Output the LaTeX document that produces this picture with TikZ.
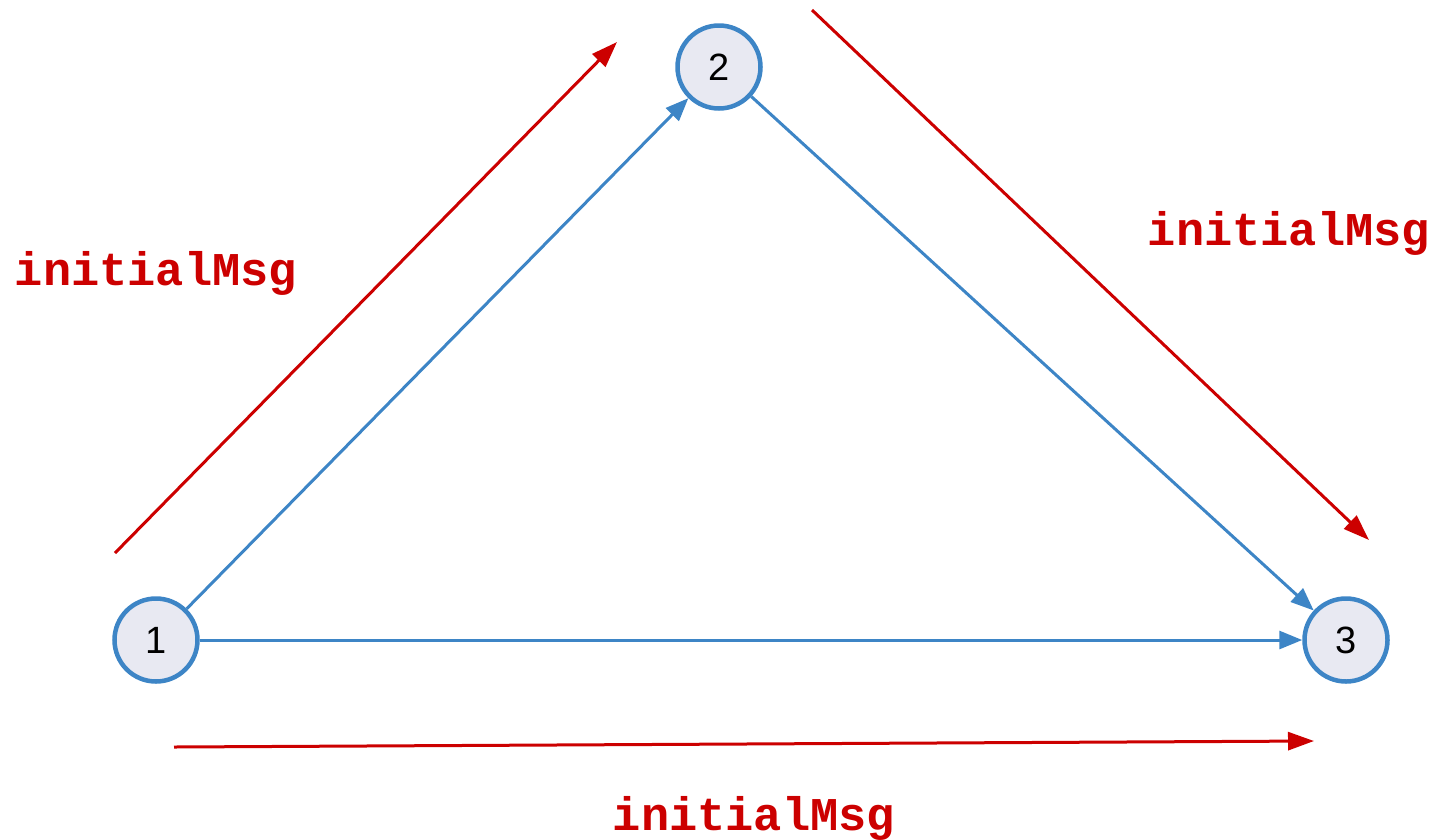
\documentclass[tikz,border=0pt]{standalone}
\usepackage{fontspec}
\setmainfont{Liberation Sans}
\newfontfamily\msgfont{Liberation Mono}
\usetikzlibrary{arrows.meta}
\definecolor{kantenblau}{RGB}{61,133,198}
\definecolor{knotenfill}{RGB}{232,233,242}
\definecolor{msgrot}{RGB}{204,0,0}

\begin{document}
\begin{tikzpicture}[x=1pt, y=-1pt,
			knoten/.style={circle, draw=kantenblau, fill=knotenfill, line width=4.5pt, minimum size=83pt, inner sep=0pt, font=\fontsize{38}{44}\selectfont},
			kante/.style={draw=kantenblau, line width=3pt, -{Triangle[length=23pt,width=18pt]}},  %Kanten des Graphen
			msg/.style={draw=msgrot, line width=3pt, -{Triangle[length=26pt,width=18pt]}},   %Nachrichtenpfeile
			msgtext/.style={text=msgrot, font=\msgfont\bfseries\fontsize{47}{50}\selectfont, inner sep=0pt, anchor=base}]
			%Bildbereich festlegen
			\useasboundingbox (0,0) rectangle (1439,839);
			% Knoten zeichnen
			\node[knoten] (n1) at (156,640) {1};
			\node[knoten] (n2) at (719,67) {2};
			\node[knoten] (n3) at (1346,640) {3};
			% Kanten zeichnen
			\draw[kante] (n1) -- (n2);
			\draw[kante] (n2) -- (n3);
			\draw[kante] (n1) -- (n3);
			% Nachrichten
			\coordinate (m12a) at (115,553);
			\coordinate (m12b) at (617,42);
			\coordinate (m23a) at (812,10);
			\coordinate (m23b) at (1369,540);
			\coordinate (m13a) at (174,747);
			\coordinate (m13b) at (1314,741);
			\draw[msg] (m12a) -- (m12b);
			\draw[msg] (m23a) -- (m23b);
			\draw[msg] (m13a) -- (m13b);
			%Beschriftung
			\node[msgtext] (l12) at (156,285) {initialMsg};
			\node[msgtext] (l23) at (1289,245) {initialMsg};
			\node[msgtext] (l13) at (754,830) {initialMsg};
		\end{tikzpicture}
\end{document}
